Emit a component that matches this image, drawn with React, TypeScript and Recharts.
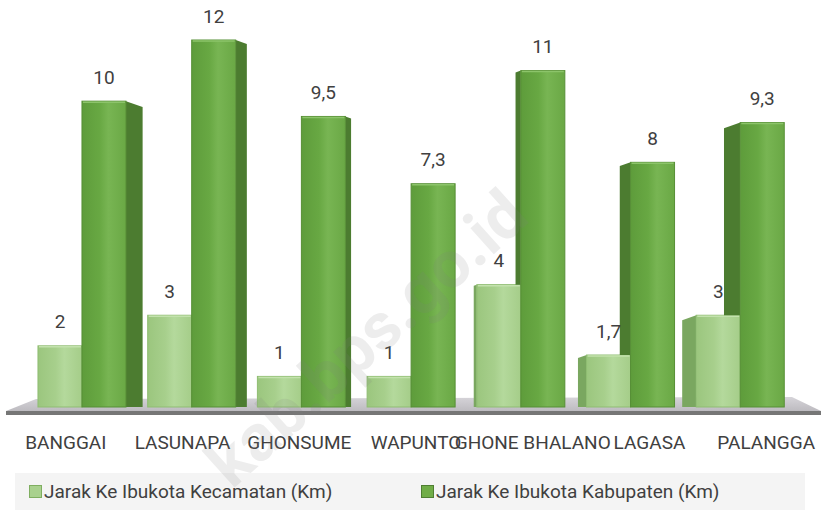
import React from "react";
import { BarChart, Bar, XAxis, YAxis, LabelList } from "recharts";

const categories = ["BANGGAI", "LASUNAPA", "GHONSUME", "WAPUNTO", "GHONE BHALANO", "LAGASA", "PALANGGA"];
const kecamatan = [2, 3, 1, 1, 4, 1.7, 3];
const kabupaten = [10, 12, 9.5, 7.3, 11, 8, 9.3];
const seriesNames = ["Jarak Ke Ibukota Kecamatan (Km)", "Jarak Ke Ibukota Kabupaten (Km)"];

const data = categories.map((c, i) => ({ name: c, kec: kecamatan[i], kab: kabupaten[i] }));

const FONT = "Roboto, 'Open Sans', sans-serif";
const TEXT = "#404040";
const VP = 437;
const K = 0.05;

const fmt = (v: number) => String(v).replace(".", ",");

function Bar3D(props: any) {
  const { x, y, width, height, payload, dataKey } = props;
  if (!height || height <= 0) return null;
  const dark = dataKey === "kab";
  const cx = x + width / 2;
  const d = (VP - cx) * K;
  const t = Math.abs(d) * 0.35;
  const yb = y + height;
  let side: string | null = null;
  if (d > 0.5) {
    const e = x + width;
    side = `${e},${y} ${e + d},${y + t} ${e + d},${yb} ${e},${yb}`;
  } else if (d < -0.5) {
    const e = x;
    let bottom = yb;
    if (dark && payload && payload.kab > 0) {
      bottom = yb - (payload.kec / payload.kab) * height;
    }
    side = `${e},${y} ${e + d},${y + t} ${e + d},${bottom} ${e},${bottom}`;
  }
  return (
    <g>
      {side && <polygon points={side} fill={dark ? "#4c7c30" : "#7aa760"} />}
      <rect
        x={x}
        y={y}
        width={width}
        height={height}
        fill={dark ? "url(#gDark)" : "url(#gLight)"}
        stroke={dark ? "#578f36" : "#8fbd72"}
        strokeWidth={1}
      />
      <line x1={x + 1} x2={x + width - 1} y1={y + 1} y2={y + 1} stroke={dark ? "#8cc46a" : "#c3e2ad"} strokeWidth={1.5} />
    </g>
  );
}

function ValueLabel(props: any) {
  const { x, y, width, value } = props;
  return (
    <text
      x={x + width / 2}
      y={y - 24}
      textAnchor="middle"
      dominantBaseline="central"
      fontFamily={FONT}
      fontSize={19}
      fill={TEXT}
    >
      {fmt(value)}
    </text>
  );
}

function CatTick(props: any) {
  const { x, y, payload } = props;
  const tx = x + (x - 333) * 0.064;
  return (
    <text x={tx} y={y + 42} textAnchor="middle" fontFamily={FONT} fontSize={19} fill={TEXT}>
      {payload.value}
    </text>
  );
}

export default function App() {
  return (
    <div
      style={{
        position: "absolute",
        left: 0,
        top: 0,
        width: 821,
        height: 510,
        background: "#ffffff",
        overflow: "hidden",
      }}
    >
      <svg width={821} height={510} style={{ position: "absolute", left: 0, top: 0 }}>
        <defs>
          <linearGradient id="floorG" x1="0" y1="0" x2="0" y2="1">
            <stop offset="0%" stopColor="#d6d4d9" />
            <stop offset="100%" stopColor="#bdbbc0" />
          </linearGradient>
        </defs>
        <polygon points="36,399 792,397 821,411 6,411" fill="url(#floorG)" />
        <rect x={6} y={411} width={815} height={4} fill="#767676" />
        <rect x={15} y={473} width={790} height={37} fill="#f4f4f4" />
      </svg>
      <div style={{ position: "absolute", left: 0, top: 0 }}>
        <BarChart
          width={821}
          height={510}
          data={data}
          margin={{ top: 40, right: 26, left: 27, bottom: 63 }}
          barCategoryGap="10%"
          barGap={0}
        >
          <defs>
            <linearGradient id="gDark" x1="0" y1="0" x2="1" y2="0">
              <stop offset="0%" stopColor="#5e9c3b" />
              <stop offset="40%" stopColor="#68a843" />
              <stop offset="60%" stopColor="#78b553" />
              <stop offset="100%" stopColor="#6aa845" />
            </linearGradient>
            <linearGradient id="gLight" x1="0" y1="0" x2="1" y2="0">
              <stop offset="0%" stopColor="#9bc67e" />
              <stop offset="40%" stopColor="#a7cf8c" />
              <stop offset="60%" stopColor="#b4d99c" />
              <stop offset="100%" stopColor="#a5cd89" />
            </linearGradient>
          </defs>
          <XAxis
            dataKey="name"
            axisLine={false}
            tickLine={false}
            tickSize={0}
            tickMargin={0}
            height={40}
            interval={0}
            tick={<CatTick />}
          />
          <YAxis hide domain={[0, 12]} />
          <Bar dataKey="kec" name={seriesNames[0]} fill="#a9d18e" shape={<Bar3D />} isAnimationActive={false}>
            <LabelList dataKey="kec" content={<ValueLabel />} />
          </Bar>
          <Bar dataKey="kab" name={seriesNames[1]} fill="#70ad47" shape={<Bar3D />} isAnimationActive={false}>
            <LabelList dataKey="kab" content={<ValueLabel />} />
          </Bar>
        </BarChart>
      </div>
      <svg width={821} height={510} style={{ position: "absolute", left: 0, top: 0, pointerEvents: "none" }}>
        <text
          x={0}
          y={0}
          transform="translate(232,490) rotate(-42)"
          fontFamily={FONT}
          fontWeight={700}
          fontSize={66}
          fill="#7f7f7f"
          fillOpacity={0.14}
        >
          kab.bps.go.id
        </text>
      </svg>
      <div
        style={{
          position: "absolute",
          top: 473,
          left: 0,
          width: 821,
          height: 37,
          fontFamily: FONT,
          fontSize: 19,
          color: TEXT,
        }}
      >
        {seriesNames.map((n, i) => (
          <div
            key={n}
            style={{
              position: "absolute",
              left: i === 0 ? 29 : 421,
              top: 0,
              height: 37,
              display: "flex",
              alignItems: "center",
              whiteSpace: "nowrap",
            }}
          >
            <span
              style={{
                display: "inline-block",
                width: 11,
                height: 11,
                background: i === 0 ? "#a9d18e" : "#70ad47",
                border: `1px solid ${i === 0 ? "#7fae60" : "#4f7e32"}`,
                marginRight: 2,
              }}
            />
            <span>{n}</span>
          </div>
        ))}
      </div>
    </div>
  );
}
